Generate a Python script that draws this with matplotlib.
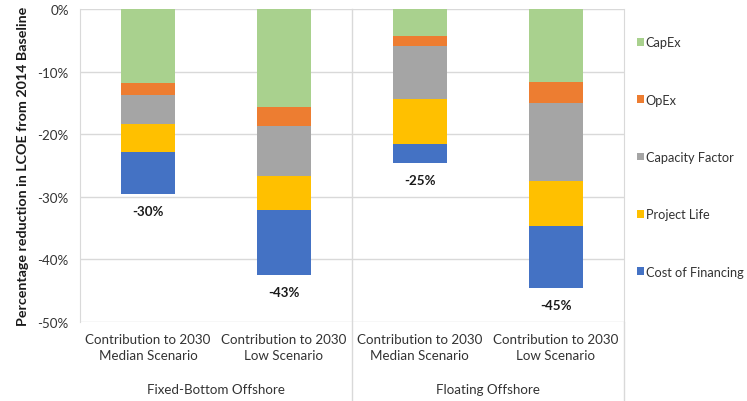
import matplotlib
matplotlib.use("Agg")
import matplotlib.pyplot as plt
import numpy as np
from matplotlib.ticker import FuncFormatter

# ========= Data (percentage points of LCOE reduction) =========
scenarios = ["Contribution to 2030\nMedian Scenario", "Contribution to 2030\nLow Scenario",
             "Contribution to 2030\nMedian Scenario", "Contribution to 2030\nLow Scenario"]
groups = ["Fixed-Bottom Offshore", "Floating Offshore"]

capex = [-11.9, -15.7, -4.3, -11.7]
opex = [-1.8, -3.0, -1.6, -3.3]
capacity_factor = [-4.6, -8.0, -8.5, -12.5]
project_life = [-4.5, -5.4, -7.1, -7.2]
cost_of_financing = [-6.8, -10.4, -3.1, -9.9]
totals = [-30, -43, -25, -45]

series = [
    ("CapEx", capex, "#A9D18E"),
    ("OpEx", opex, "#ED7D31"),
    ("Capacity Factor", capacity_factor, "#A5A5A5"),
    ("Project Life", project_life, "#FFC000"),
    ("Cost of Financing", cost_of_financing, "#4472C4"),
]

plt.rcParams["font.family"] = ["Lato", "DejaVu Sans"]
grid_col = "#D9D9D9"
txt_col = "#333333"

fig = plt.figure(figsize=(7.47, 4.02), dpi=100)
ax = fig.add_axes([0.107, 0.197, 0.728, 0.778])

x = np.arange(len(scenarios))
bottom = np.zeros(len(scenarios))
for name, vals, col in series:
    vals = np.array(vals)
    ax.bar(x, vals, width=0.4, bottom=bottom, color=col, label=name, zorder=3)
    bottom = bottom + vals

# total labels under each bar
for xi, b, t in zip(x, bottom, totals):
    ax.text(xi, b - 1.8, f"{t}%", ha="center", va="top", fontsize=9.6,
            fontweight="bold", color="#1a1a1a")

ax.set_xlim(-0.5, 3.5)
ax.set_ylim(-50, 0)
ax.set_yticks(np.arange(-50, 1, 10))
ax.yaxis.set_major_formatter(FuncFormatter(lambda y, _: f"{int(y)}%"))
ax.grid(axis="y", color=grid_col, linewidth=1, zorder=0)

for s in ["top", "bottom"]:
    ax.spines[s].set_visible(False)
ax.spines["left"].set_color(grid_col)
ax.spines["right"].set_color(grid_col)
ax.tick_params(axis="both", length=0, labelsize=9.6, colors=txt_col)
ax.tick_params(axis="y", pad=8)

ax.set_xticks(x)
ax.set_xticklabels(scenarios, linespacing=1.45)
ax.tick_params(axis="x", pad=8)

# group separator lines and group labels
ax.plot([1.5, 1.5], [0, -62.5], color=grid_col, linewidth=1, clip_on=False, zorder=1)
ax.plot([3.5, 3.5], [-50, -62.5], color=grid_col, linewidth=1, clip_on=False, zorder=1)
for gx, g in zip([0.5, 2.5], groups):
    ax.text(gx, -60.7, g, ha="center", va="center", fontsize=9.6, color=txt_col)

ax.set_ylabel("Percentage reduction in LCOE from 2014 Baseline", fontsize=10.3,
              fontweight="bold", color="#1a1a1a", labelpad=6)

leg = ax.legend(loc="center left", bbox_to_anchor=(1.024, 0.527), frameon=False,
                fontsize=9.2, handlelength=0.55, handleheight=0.55, handletextpad=0.15,
                labelspacing=3.55, borderaxespad=0, borderpad=0, labelcolor=txt_col)

plt.savefig("out.png", dpi=100)
